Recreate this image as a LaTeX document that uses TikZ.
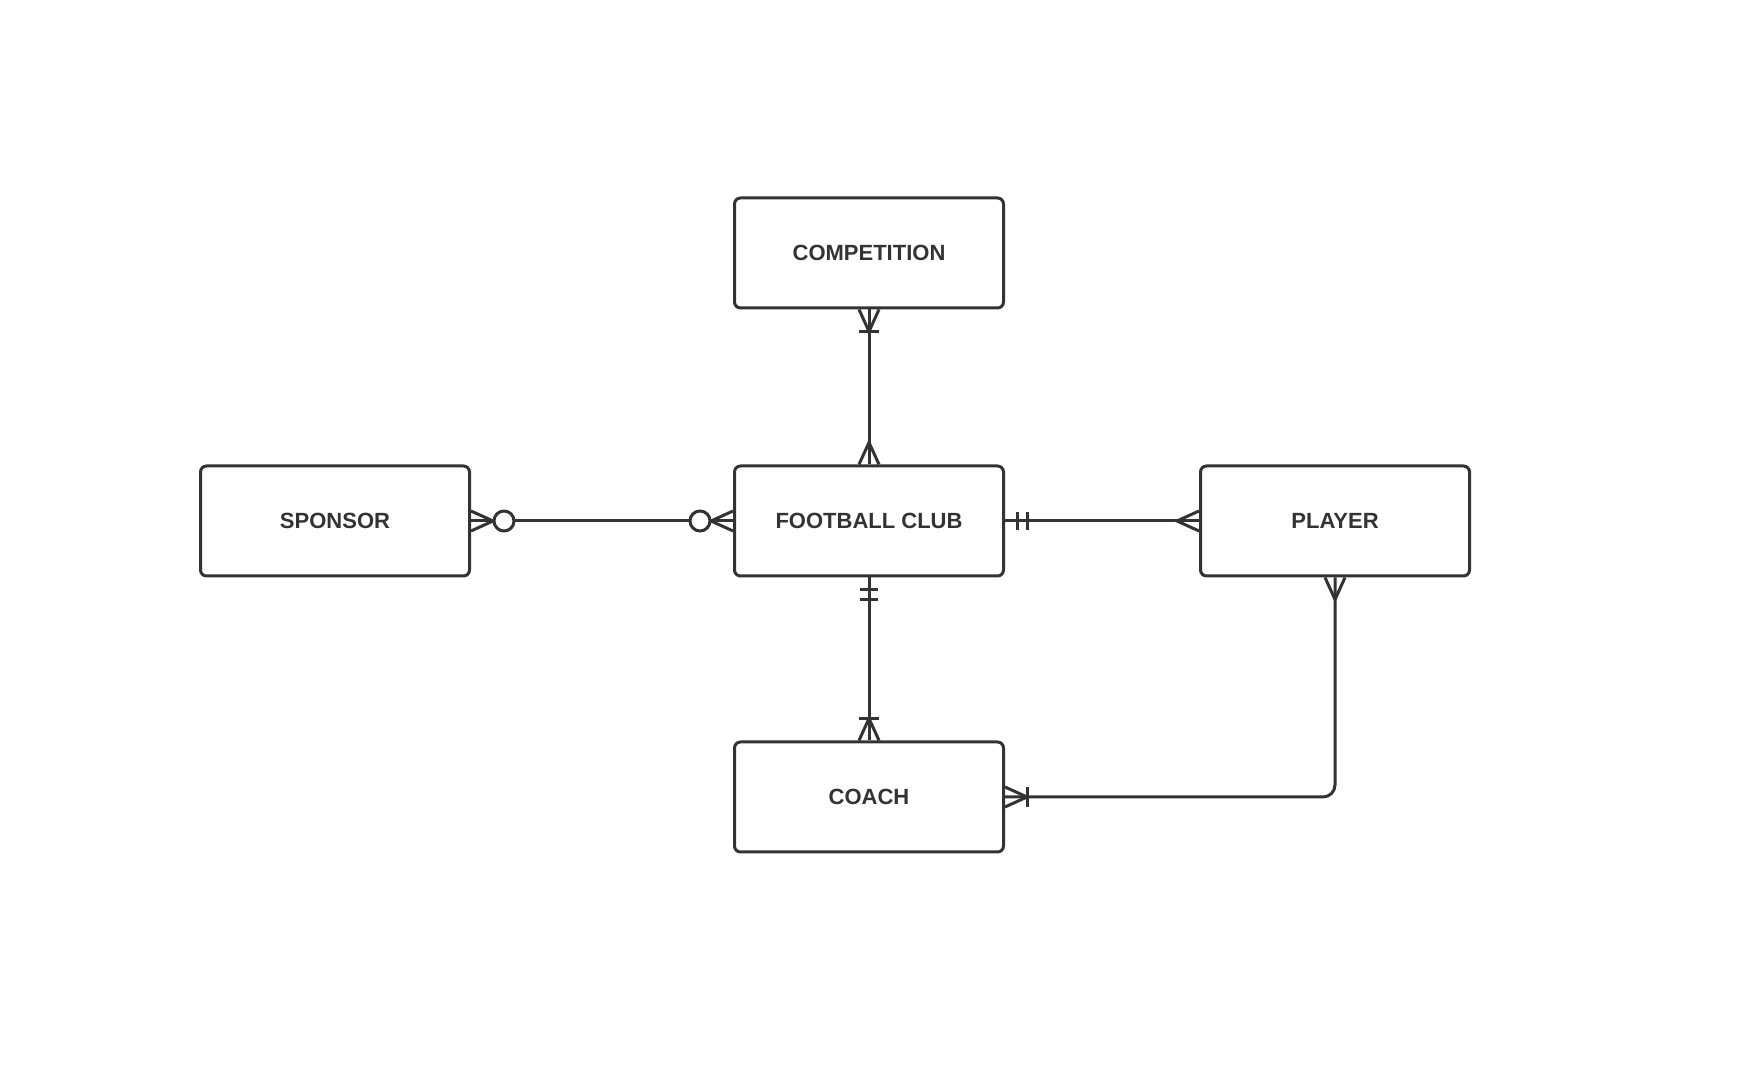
\documentclass[tikz,border=0pt]{standalone}
\usepackage{fontspec}
\setmainfont{Liberation Sans}
\usetikzlibrary{positioning}
\definecolor{erline}{HTML}{333333}

\tikzset{
  entity/.style={draw=erline, line width=1.5pt, rounded corners=3pt,
    minimum width=134.5pt, minimum height=55pt, text=erline,
    font=\fontsize{11pt}{13pt}\selectfont\bfseries},
  link/.style={draw=erline, line width=1.5pt},
  % cardinality marks, x axis points away from the entity
  many/.pic={\draw[link] (0,10) -- (22,0) -- (0,-10);},
  one/.pic={\draw[link] (22,10) -- (22,-10);},
  onlyone/.pic={\draw[link] (12,9) -- (12,-9) (22,9) -- (22,-9);},
  zero/.pic={\draw[link, fill=white] (33,0) circle[radius=10];}
}

\begin{document}
\begin{tikzpicture}[x=0.5pt, y=0.5pt]
\useasboundingbox (0,0) rectangle (1760,1074);

\node[entity] (club) at (869,553) {FOOTBALL CLUB};
\node[entity, above=77.5pt of club] (comp) {COMPETITION};
\node[entity, below=81.5pt of club] (coach) {COACH};
\node[entity, left=131pt of club] (sponsor) {SPONSOR};
\node[entity, right=97pt of club] (player) {PLAYER};

% relationships
\draw[link] (comp) -- (club);
\draw[link] (sponsor) -- (club);
\draw[link] (club) -- (player);
\draw[link] (club) -- (coach);
\draw[link, rounded corners=6pt] (player) |- (coach);

% ends
\pic[rotate=-90] at (comp.south) {many};
\pic[rotate=-90] at (comp.south) {one};
\pic[rotate=90] at (club.north) {many};
\pic at (sponsor.east) {many};
\pic at (sponsor.east) {zero};
\pic[rotate=180] at (club.west) {many};
\pic[rotate=180] at (club.west) {zero};
\pic at (club.east) {onlyone};
\pic[rotate=180] at (player.west) {many};
\pic[rotate=-90] at (club.south) {onlyone};
\pic[rotate=90] at (coach.north) {many};
\pic[rotate=90] at (coach.north) {one};
\pic[rotate=-90] at (player.south) {many};
\pic at (coach.east) {many};
\pic at (coach.east) {one};
\end{tikzpicture}
\end{document}
